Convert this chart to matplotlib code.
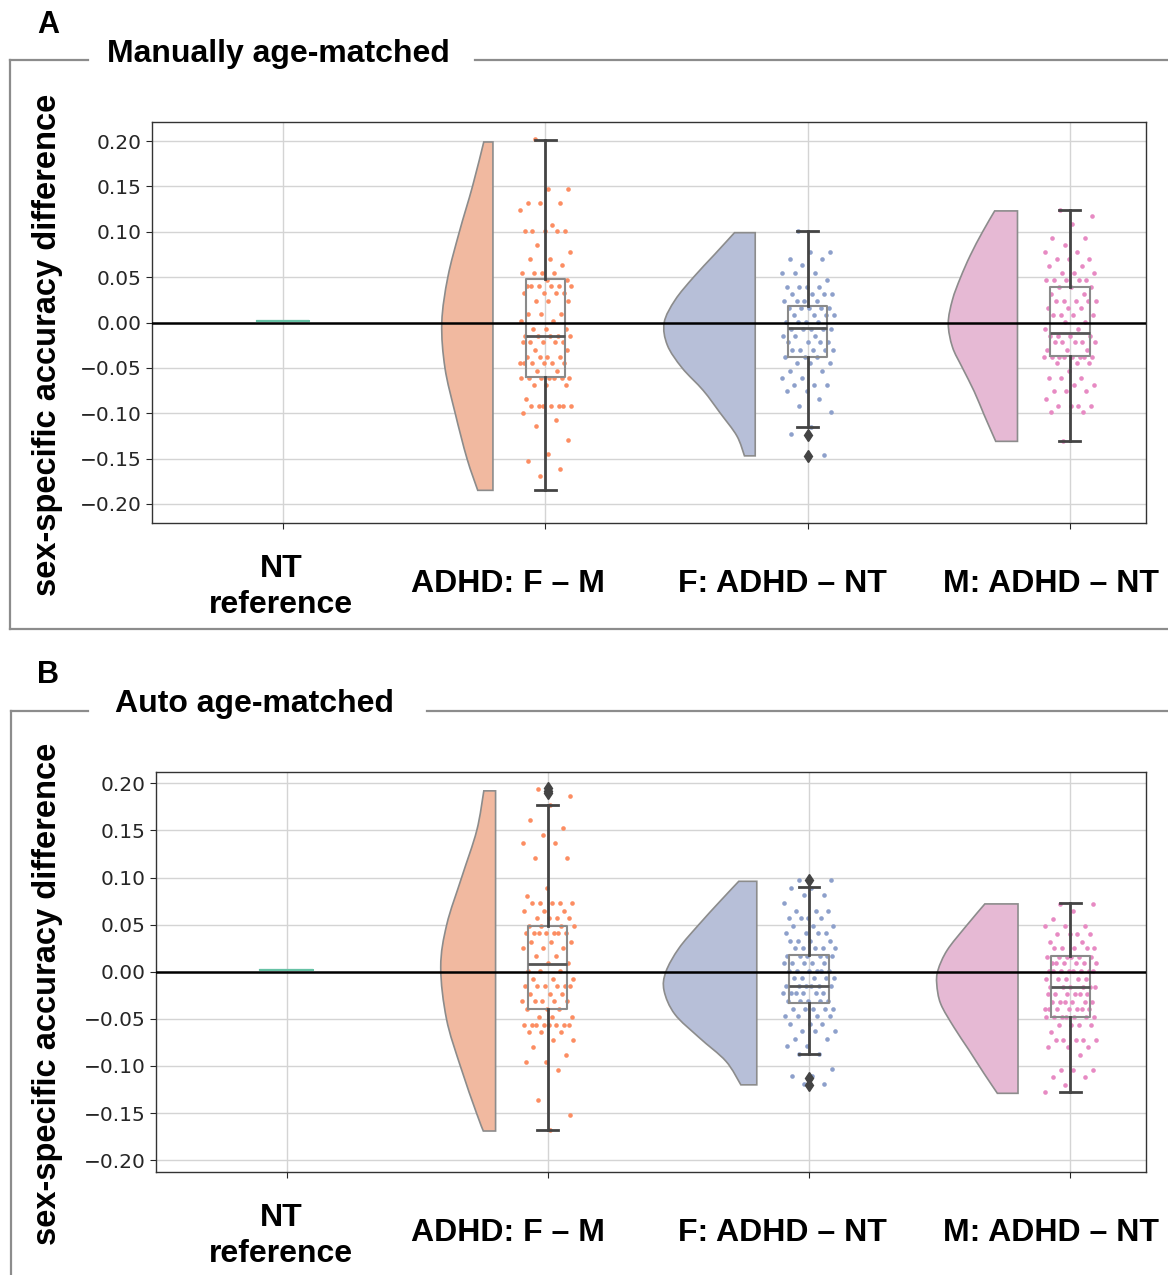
"""Raincloud-style comparison of sex-specific accuracy differences (two panels)."""

import numpy as np
import matplotlib.pyplot as plt
from matplotlib.lines import Line2D
from matplotlib.path import Path
from matplotlib.patches import PathPatch

W, H = 1168, 1275

CATEGORIES = ["NT\nreference", "ADHD: F – M", "F: ADHD – NT", "M: ADHD – NT"]
POINT_COLORS = ["#66c2a5", "#fc8d62", "#8da0cb", "#e78ac3"]
VIOLIN_COLORS = ["#b3e2cd", "#f1b9a0", "#b7bfd8", "#e6b9d4"]
YTICKS = [-0.20, -0.15, -0.10, -0.05, 0.00, 0.05, 0.10, 0.15, 0.20]

# ---------------- Panel A: manually age-matched ----------------
A_NT = [0.002]

A_FM_LEVELS = [0.202, 0.147, 0.132, 0.124, 0.108, 0.101, 0.085, 0.078, 0.070, 0.063, 0.055, 0.047,
               0.040, 0.032, 0.024, 0.009, 0.002, -0.007, -0.015, -0.022, -0.030, -0.038, -0.045,
               -0.053, -0.061, -0.069, -0.084, -0.092, -0.100, -0.107, -0.114, -0.130, -0.145,
               -0.153, -0.161, -0.169]
A_FM_COUNTS = [1, 2, 3, 1, 1, 5, 1, 1, 2, 1, 4, 2, 6, 4, 3, 3, 2, 3, 5, 5, 2, 4, 6, 2, 7, 3, 1, 7,
               1, 1, 1, 1, 1, 1, 1, 1]
A_FM_BOX = dict(whislo=-0.185, q1=-0.060, med=-0.015, q3=0.048, whishi=0.201, fliers=[])
A_FM_VY = [0.199, 0.150, 0.100, 0.050, 0.000, -0.050, -0.100, -0.150, -0.185]
A_FM_VW = [0.035, 0.078, 0.128, 0.172, 0.195, 0.183, 0.144, 0.099, 0.058]

A_F_LEVELS = [0.101, 0.078, 0.070, 0.063, 0.055, 0.047, 0.039, 0.031, 0.024, 0.016, 0.008, 0.001,
              -0.007, -0.015, -0.022, -0.030, -0.038, -0.045, -0.053, -0.061, -0.069, -0.076,
              -0.084, -0.092, -0.099, -0.115, -0.123, -0.146]
A_F_COUNTS = [1, 2, 2, 1, 3, 1, 4, 4, 4, 5, 4, 4, 5, 3, 4, 5, 3, 3, 2, 2, 3, 2, 1, 1, 1, 1, 1, 1]
A_F_BOX = dict(whislo=-0.115, q1=-0.0376, med=-0.0057, q3=0.0182, whishi=0.101,
               fliers=[-0.124, -0.147])
A_F_VY = [0.099, 0.075, 0.050, 0.025, 0.000, -0.025, -0.050, -0.075, -0.100, -0.125, -0.147]
A_F_VW = [0.079, 0.155, 0.235, 0.305, 0.347, 0.335, 0.279, 0.198, 0.133, 0.070, 0.041]

A_M_LEVELS = [0.124, 0.117, 0.109, 0.093, 0.085, 0.078, 0.070, 0.062, 0.055, 0.047, 0.039, 0.031,
              0.024, 0.016, 0.008, 0.001, -0.007, -0.015, -0.022, -0.030, -0.038, -0.045, -0.053,
              -0.061, -0.069, -0.076, -0.084, -0.092, -0.099, -0.131]
A_M_COUNTS = [1, 1, 1, 2, 1, 2, 3, 2, 3, 5, 3, 2, 5, 3, 4, 2, 2, 4, 5, 3, 8, 3, 1, 3, 2, 3, 1, 4,
              2, 1]
A_M_BOX = dict(whislo=-0.131, q1=-0.0369, med=-0.0112, q3=0.0395, whishi=0.124, fliers=[])
A_M_VY = [0.123, 0.100, 0.074, 0.049, 0.025, -0.001, -0.027, -0.050, -0.076, -0.102, -0.131]
A_M_VW = [0.087, 0.133, 0.180, 0.218, 0.248, 0.264, 0.248, 0.210, 0.165, 0.127, 0.083]

# ---------------- Panel B: auto age-matched ----------------
B_NT = [0.002]

B_FM_LEVELS = [0.194, 0.186, 0.177, 0.161, 0.153, 0.145, 0.137, 0.121, 0.089, 0.080, 0.073, 0.065,
               0.057, 0.049, 0.041, 0.032, 0.025, 0.017, 0.009, 0.001, -0.008, -0.015, -0.024,
               -0.031, -0.040, -0.048, -0.056, -0.064, -0.072, -0.080, -0.088, -0.096, -0.104,
               -0.136, -0.152, -0.168]
B_FM_COUNTS = [1, 1, 1, 1, 1, 1, 2, 2, 1, 1, 5, 3, 4, 4, 7, 3, 3, 2, 2, 3, 3, 6, 3, 5, 3, 3, 8, 3,
               2, 1, 1, 2, 1, 1, 1, 1]
B_FM_BOX = dict(whislo=-0.168, q1=-0.0398, med=0.0087, q3=0.0486, whishi=0.1774,
                fliers=[0.190, 0.192, 0.195])
B_FM_VY = [0.192, 0.150, 0.100, 0.050, 0.005, -0.050, -0.100, -0.150, -0.169]
B_FM_VW = [0.045, 0.072, 0.130, 0.187, 0.210, 0.188, 0.135, 0.073, 0.047]

B_F_LEVELS = [0.097, 0.089, 0.081, 0.073, 0.065, 0.057, 0.049, 0.041, 0.033, 0.025, 0.017, 0.009,
              0.001, -0.007, -0.015, -0.023, -0.031, -0.039, -0.047, -0.055, -0.063, -0.071,
              -0.079, -0.087, -0.103, -0.111, -0.119]
B_F_COUNTS = [2, 2, 2, 1, 3, 4, 3, 4, 4, 5, 6, 5, 6, 5, 6, 6, 5, 5, 4, 3, 3, 2, 2, 2, 1, 2, 2]
B_F_BOX = dict(whislo=-0.0875, q1=-0.033, med=-0.015, q3=0.0175, whishi=0.090,
               fliers=[0.097, -0.113, -0.120])
B_F_VY = [0.096, 0.075, 0.050, 0.025, 0.000, -0.020, -0.045, -0.070, -0.095, -0.120]
B_F_VW = [0.069, 0.140, 0.222, 0.298, 0.348, 0.355, 0.314, 0.220, 0.118, 0.061]

B_M_LEVELS = [0.072, 0.064, 0.056, 0.049, 0.040, 0.032, 0.025, 0.016, 0.009, 0.001, -0.008,
              -0.016, -0.024, -0.032, -0.040, -0.048, -0.056, -0.064, -0.072, -0.080, -0.088,
              -0.104, -0.112, -0.120, -0.128]
B_M_COUNTS = [2, 1, 1, 3, 4, 2, 5, 6, 6, 8, 5, 6, 6, 6, 7, 7, 4, 1, 5, 3, 1, 3, 2, 1, 1]
B_M_BOX = dict(whislo=-0.1275, q1=-0.0479, med=-0.0161, q3=0.0168, whishi=0.0730, fliers=[])
B_M_VY = [0.072, 0.048, 0.023, 0.002, -0.013, -0.034, -0.059, -0.083, -0.108, -0.129]
B_M_VW = [0.127, 0.200, 0.271, 0.306, 0.311, 0.296, 0.245, 0.188, 0.130, 0.079]


def group(levels, counts, box, vy, vw):
    return dict(values=np.repeat(levels, counts), box=box, vy=np.array(vy), vw=np.array(vw))


def nt_box(vals):
    v = vals[0]
    return dict(whislo=v, q1=v, med=v, q3=v, whishi=v, fliers=[])


def fx(x):
    return x / W


def fy(y):
    return 1 - y / H


def half_violin(ax, edge, vy, vw, face):
    """Closed half-violin: flat side at `edge`, curved side drawn as a smooth
    Catmull-Rom/Bezier path through the read-off profile."""
    pts = np.column_stack([edge - vw, vy])
    ext = np.vstack([pts[0], pts, pts[-1]])
    verts = [(edge, vy[0]), tuple(pts[0])]
    codes = [Path.MOVETO, Path.LINETO]
    for i in range(1, len(ext) - 2):
        p0, p1, p2, p3 = ext[i - 1], ext[i], ext[i + 1], ext[i + 2]
        c1 = p1 + (p2 - p0) / 6.0
        c2 = p2 - (p3 - p1) / 6.0
        verts += [tuple(c1), tuple(c2), tuple(p2)]
        codes += [Path.CURVE4] * 3
    verts += [(edge, vy[-1]), (edge, vy[0])]
    codes += [Path.LINETO, Path.CLOSEPOLY]
    ax.add_patch(PathPatch(Path(verts, codes), facecolor=face, edgecolor="#8c8c8c",
                           lw=1.2, zorder=2))


def draw_panel(ax, nt, groups, ylim):
    ax.set_xlim(-0.5, 3.29)
    ax.set_ylim(*ylim)
    ax.set_yticks(YTICKS)
    ax.set_yticklabels([f"{t:.2f}".replace("-", "\u2212") for t in YTICKS])
    ax.set_xticks(range(len(CATEGORIES)))
    ax.set_xticklabels([])
    ax.set_axisbelow(True)
    ax.grid(True, color="#d4d4d4", lw=1.0)
    ax.tick_params(labelsize=14.5, colors="#262626", length=4)
    for sp in ax.spines.values():
        sp.set_color("#333333")
        sp.set_linewidth(1.0)

    # NT reference: degenerate box at the reference value
    ax.bxp([nt_box(nt)], positions=[0], widths=0.2, showcaps=False, manage_ticks=False,
           boxprops=dict(color=POINT_COLORS[0], lw=1.5),
           whiskerprops=dict(color=POINT_COLORS[0], lw=1.5),
           medianprops=dict(color=POINT_COLORS[0], lw=1.5), zorder=4)

    for pos, g in enumerate(groups, start=1):
        half_violin(ax, pos - 0.2, g["vy"], g["vw"], VIOLIN_COLORS[pos])

        n = len(g["values"])
        jitter = (((np.arange(n) + 0.5) * 0.618034) % 1.0 - 0.5) * 0.2
        ax.scatter(pos + jitter, g["values"], s=11, color=POINT_COLORS[pos], linewidths=0,
                   zorder=3)

        ax.bxp([g["box"]], positions=[pos], widths=0.15, capwidths=0.08, manage_ticks=False,
               boxprops=dict(color="#8a8a8a", lw=1.5),
               whiskerprops=dict(color="#444444", lw=2.0),
               capprops=dict(color="#444444", lw=2.0),
               medianprops=dict(color="#555555", lw=2.0),
               flierprops=dict(marker="d", markerfacecolor="#444444",
                               markeredgecolor="#444444", markersize=6),
               zorder=4)

    ax.axhline(0, color="black", lw=1.8, zorder=5)


def frame(fig, top, bottom, gap, left=10):
    kw = dict(color="#8c8c8c", lw=1.6, transform=fig.transFigure)
    fig.add_artist(Line2D([fx(left), fx(left)], [fy(top), fy(bottom)], **kw))
    fig.add_artist(Line2D([fx(left), fx(gap[0])], [fy(top), fy(top)], **kw))
    fig.add_artist(Line2D([fx(gap[1]), fx(W)], [fy(top), fy(top)], **kw))
    if bottom < H:
        fig.add_artist(Line2D([fx(left), fx(W)], [fy(bottom), fy(bottom)], **kw))


def labels(fig, letter, title, letter_y, title_x, title_y, ylabel_y, cat_y):
    bold = dict(family="Liberation Sans", fontweight="bold", color="black")
    fig.text(fx(37), fy(letter_y), letter, fontsize=22, va="baseline", ha="left", **bold)
    fig.text(fx(title_x), fy(title_y), title, fontsize=23, va="baseline", ha="left", **bold)
    fig.text(fx(48), fy(ylabel_y), "sex-specific accuracy difference", fontsize=23.5,
             rotation=90, ha="center", va="center", **bold)
    centers = [281, 508, 782, 1051]
    for cx, lab in zip(centers, CATEGORIES):
        # multi-line labels are placed by the baseline of their last line
        base = cat_y + 21 if "\n" in lab else cat_y
        fig.text(fx(cx), fy(base), lab, fontsize=23, ha="center", va="baseline",
                 multialignment="center", linespacing=1.25, **bold)


def main() -> None:
    fig = plt.figure(figsize=(W / 100, H / 100), dpi=100)

    ax_a = fig.add_axes([fx(152), fy(523), fx(1146) - fx(152), fy(122) - fy(523)])
    draw_panel(ax_a, A_NT, [
        group(A_FM_LEVELS, A_FM_COUNTS, A_FM_BOX, A_FM_VY, A_FM_VW),
        group(A_F_LEVELS, A_F_COUNTS, A_F_BOX, A_F_VY, A_F_VW),
        group(A_M_LEVELS, A_M_COUNTS, A_M_BOX, A_M_VY, A_M_VW),
    ], (-0.221, 0.221))

    ax_b = fig.add_axes([fx(156), fy(1172), fx(1146) - fx(156), fy(772) - fy(1172)])
    draw_panel(ax_b, B_NT, [
        group(B_FM_LEVELS, B_FM_COUNTS, B_FM_BOX, B_FM_VY, B_FM_VW),
        group(B_F_LEVELS, B_F_COUNTS, B_F_BOX, B_F_VY, B_F_VW),
        group(B_M_LEVELS, B_M_COUNTS, B_M_BOX, B_M_VY, B_M_VW),
    ], (-0.2125, 0.212))

    frame(fig, 60, 629, (88, 475))
    frame(fig, 711, H + 5, (88, 427), left=11)
    labels(fig, "A", "Manually age-matched", 33, 107, 62, 345, 592)
    labels(fig, "B", "Auto age-matched", 683, 115, 712, 994, 1241)

    fig.savefig("out.png", dpi=100)
    plt.close(fig)


if __name__ == "__main__":
    main()
